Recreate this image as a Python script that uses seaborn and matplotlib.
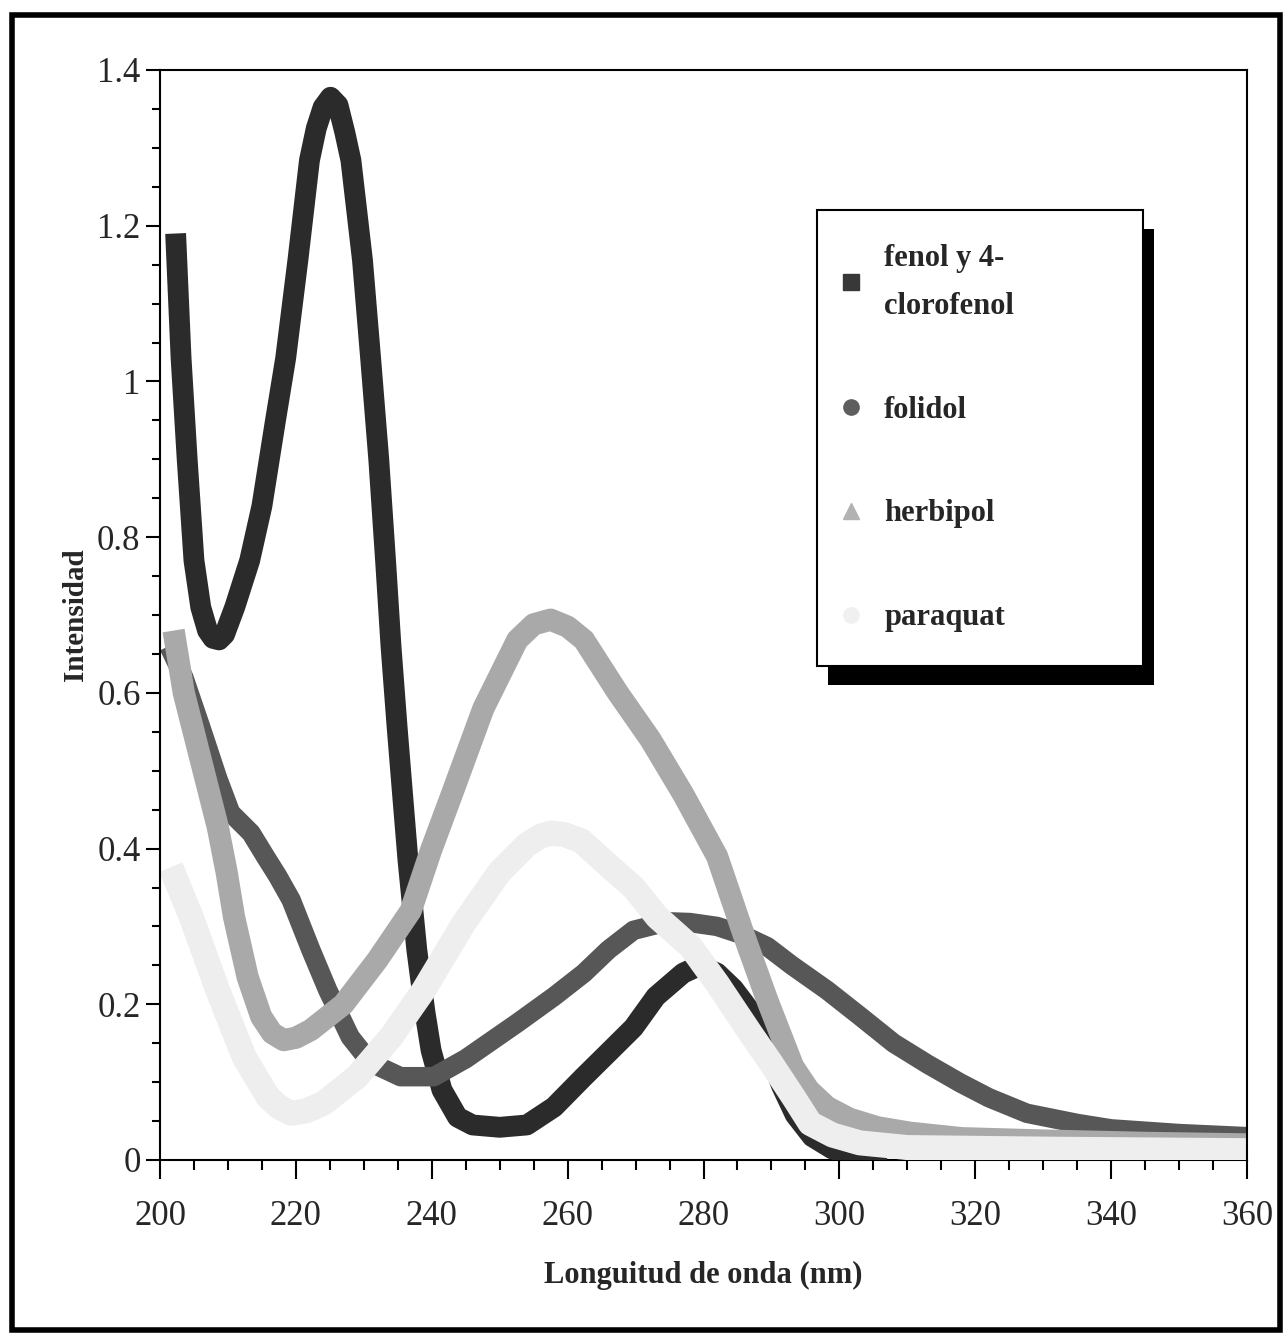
import numpy as np
import pandas as pd
import matplotlib
matplotlib.use("Agg")
import matplotlib.pyplot as plt
import seaborn as sns
from matplotlib.lines import Line2D
from matplotlib.patches import Rectangle
from matplotlib.ticker import MultipleLocator, FuncFormatter

# ---------------- data ----------------
series_names = ["fenol y 4-\nclorofenol", "folidol", "herbipol", "paraquat"]

fenol_nm = [202.3, 203.1, 204.0, 205.0, 206.0, 207.0, 207.8, 208.7, 209.5, 211.0,
            213.2, 215.0, 217.0, 218.5, 220.3, 222.0, 223.0, 224.0, 225.1, 226.2,
            227.2, 228.1, 229.8, 231.0, 232.2, 233.2, 234.0, 234.9, 235.7, 236.5,
            237.8, 239.0, 239.9, 241.5, 243.8, 246.0, 250.0, 254.0, 258.0, 262.4,
            266.0, 269.7, 273.0, 277.0, 279.5, 282.0, 284.4, 287.0, 289.5, 291.5,
            293.5, 296.0, 299.0, 303.0, 307.0]
fenol_int = [1.19, 1.03, 0.90, 0.77, 0.71, 0.68, 0.670, 0.668, 0.675, 0.71,
             0.77, 0.84, 0.95, 1.03, 1.156, 1.284, 1.325, 1.352, 1.365, 1.355,
             1.32, 1.284, 1.156, 1.03, 0.90, 0.77, 0.66, 0.556, 0.47, 0.385,
             0.27, 0.19, 0.141, 0.09, 0.055, 0.045, 0.042, 0.045, 0.068, 0.107,
             0.138, 0.17, 0.21, 0.24, 0.25, 0.24, 0.22, 0.19, 0.14, 0.095,
             0.058, 0.03, 0.014, 0.005, 0.0]

folidol_nm = [201.3, 203.5, 206.0, 208.5, 210.4, 213.4, 215.5, 217.3, 219.3, 222.2,
              224.7, 228.0, 231.0, 235.4, 240.3, 245.0, 252.6, 258.0, 262.4, 266.0,
              269.7, 274.7, 278.0, 282.0, 285.5, 289.4, 293.0, 298.2, 303.0, 308.0,
              313.0, 317.8, 322.0, 327.6, 335.0, 340.0, 350.0, 360.0]
folidol_int = [0.66, 0.62, 0.556, 0.49, 0.446, 0.42, 0.39, 0.365, 0.334, 0.27,
               0.218, 0.158, 0.125, 0.107, 0.107, 0.13, 0.176, 0.21, 0.24, 0.27,
               0.295, 0.306, 0.305, 0.30, 0.29, 0.274, 0.25, 0.218, 0.185, 0.15,
               0.123, 0.099, 0.08, 0.06, 0.047, 0.04, 0.034, 0.03]

herbipol_nm = [202.0, 203.5, 206.0, 208.5, 209.8, 210.9, 212.9, 214.9, 216.5, 218.2,
               220.0, 222.2, 227.0, 232.0, 236.9, 239.9, 242.8, 247.6, 252.6, 255.0,
               257.5, 260.0, 262.4, 267.4, 272.2, 277.0, 282.0, 285.9, 289.4, 293.2,
               295.5, 298.2, 301.5, 305.6, 310.4, 318.0, 330.0, 345.0, 360.0]
herbipol_int = [0.68, 0.60, 0.514, 0.428, 0.37, 0.312, 0.235, 0.184, 0.163, 0.154,
                0.157, 0.167, 0.20, 0.257, 0.32, 0.398, 0.466, 0.58, 0.668, 0.688,
                0.694, 0.685, 0.668, 0.60, 0.54, 0.47, 0.39, 0.29, 0.205, 0.12,
                0.09, 0.068, 0.053, 0.042, 0.035, 0.028, 0.025, 0.022, 0.02]

paraquat_nm = [201.6, 204.6, 208.5, 212.4, 215.9, 217.5, 219.3, 221.5, 224.1, 229.0,
               234.0, 238.8, 244.7, 250.0, 254.0, 256.0, 257.5, 259.5, 262.0, 266.3,
               269.7, 273.2, 278.1, 282.0, 286.9, 289.9, 293.3, 295.7, 299.0, 303.0,
               310.0, 330.0, 360.0]
paraquat_int = [0.376, 0.312, 0.218, 0.132, 0.081, 0.068, 0.06, 0.063, 0.073, 0.107,
                0.158, 0.218, 0.304, 0.37, 0.405, 0.416, 0.42, 0.418, 0.41, 0.376,
                0.35, 0.312, 0.274, 0.227, 0.163, 0.125, 0.08, 0.047, 0.032, 0.022,
                0.016, 0.014, 0.012]

x_ticks = [200, 220, 240, 260, 280, 300, 320, 340, 360]
y_ticks = [0, 0.2, 0.4, 0.6, 0.8, 1.0, 1.2, 1.4]

# ---------------- styles ----------------
line_colors = ["#2b2b2b", "#575757", "#a9a9a9", "#eeeeee"]
line_widths = [15, 14, 16, 18]
legend_colors = ["#383838", "#5e5e5e", "#b2b2b2", "#f0f0f0"]
legend_markers = ["s", "o", "^", "o"]
legend_msizes = [12, 11, 12, 11]

W, H = 1284, 1334

sns.set_style("ticks")
plt.rcParams["font.family"] = ["Liberation Serif", "DejaVu Serif"]

fig = plt.figure(figsize=(W / 100, H / 100), dpi=100)
ax = fig.add_axes([160 / W, 1 - 1160 / H, (1247 - 160) / W, (1160 - 70) / H])

frames = []
for name, xs, ys in zip(series_names,
                        [fenol_nm, folidol_nm, herbipol_nm, paraquat_nm],
                        [fenol_int, folidol_int, herbipol_int, paraquat_int]):
    frames.append(pd.DataFrame({"nm": xs, "intensidad": ys, "serie": name}))
df = pd.concat(frames, ignore_index=True)

sns.lineplot(data=df, x="nm", y="intensidad", hue="serie", size="serie",
             hue_order=series_names, size_order=series_names,
             palette=dict(zip(series_names, line_colors)),
             sizes=dict(zip(series_names, line_widths)),
             estimator=None, sort=False, legend=False, ax=ax)
for ln in ax.lines:
    ln.set_solid_capstyle("butt")
    ln.set_solid_joinstyle("round")

ax.set_xlim(200, 360)
ax.set_ylim(0, 1.4)
ax.set_xticks(x_ticks)
ax.set_yticks(y_ticks)
ax.xaxis.set_minor_locator(MultipleLocator(5))
ax.yaxis.set_minor_locator(MultipleLocator(0.05))
ax.yaxis.set_major_formatter(FuncFormatter(lambda v, p: f"{v:g}"))

for s in ax.spines.values():
    s.set_linewidth(1.5)
    s.set_color("black")
ax.spines["bottom"].set_zorder(1.5)

ax.tick_params(axis="both", which="both", direction="out", top=False, right=False,
               color="black", width=1.5)
ax.tick_params(axis="x", which="major", length=14, labelsize=25, pad=15)
ax.tick_params(axis="x", which="minor", length=7)
ax.tick_params(axis="y", which="major", length=10, labelsize=25, pad=4)
ax.tick_params(axis="y", which="minor", length=6)

ax.set_xlabel("Longuitud de onda (nm)", fontsize=22, fontweight="bold", labelpad=20)
ax.set_ylabel("Intensidad", fontsize=21, fontweight="bold", labelpad=6)

handles = [Line2D([], [], linestyle="none", marker=m, markersize=ms, color=c,
                  markeredgecolor=c)
           for m, ms, c in zip(legend_markers, legend_msizes, legend_colors)]
leg = ax.legend(handles, series_names, loc="upper left",
                bbox_to_anchor=(657 / 1087, 0.0, 326 / 1087, 950 / 1090),
                mode="expand", frameon=True, fancybox=False, framealpha=1,
                edgecolor="black", prop={"weight": "bold", "size": 22},
                borderpad=1.1, handlelength=0.05, handletextpad=1.05,
                labelspacing=2.45, borderaxespad=0)
leg.get_frame().set_linewidth(1.5)
for t in leg.get_texts():
    t.set_linespacing(1.87)

# drop shadow of the legend box
fig.canvas.draw()
bb = leg.get_window_extent()
ax.add_patch(Rectangle(((bb.x0 + 11) / W, (bb.y0 - 19) / H), bb.width / W, bb.height / H,
                       transform=fig.transFigure, facecolor="black", edgecolor="none",
                       zorder=4.5, clip_on=False))

# outer frame of the figure
fig.add_artist(Rectangle((12 / W, 1 - 1330 / H), (1280 - 12) / W, (1330 - 15) / H,
                         transform=fig.transFigure, fill=False, edgecolor="black",
                         linewidth=4))

fig.savefig("out.png", dpi=100)
